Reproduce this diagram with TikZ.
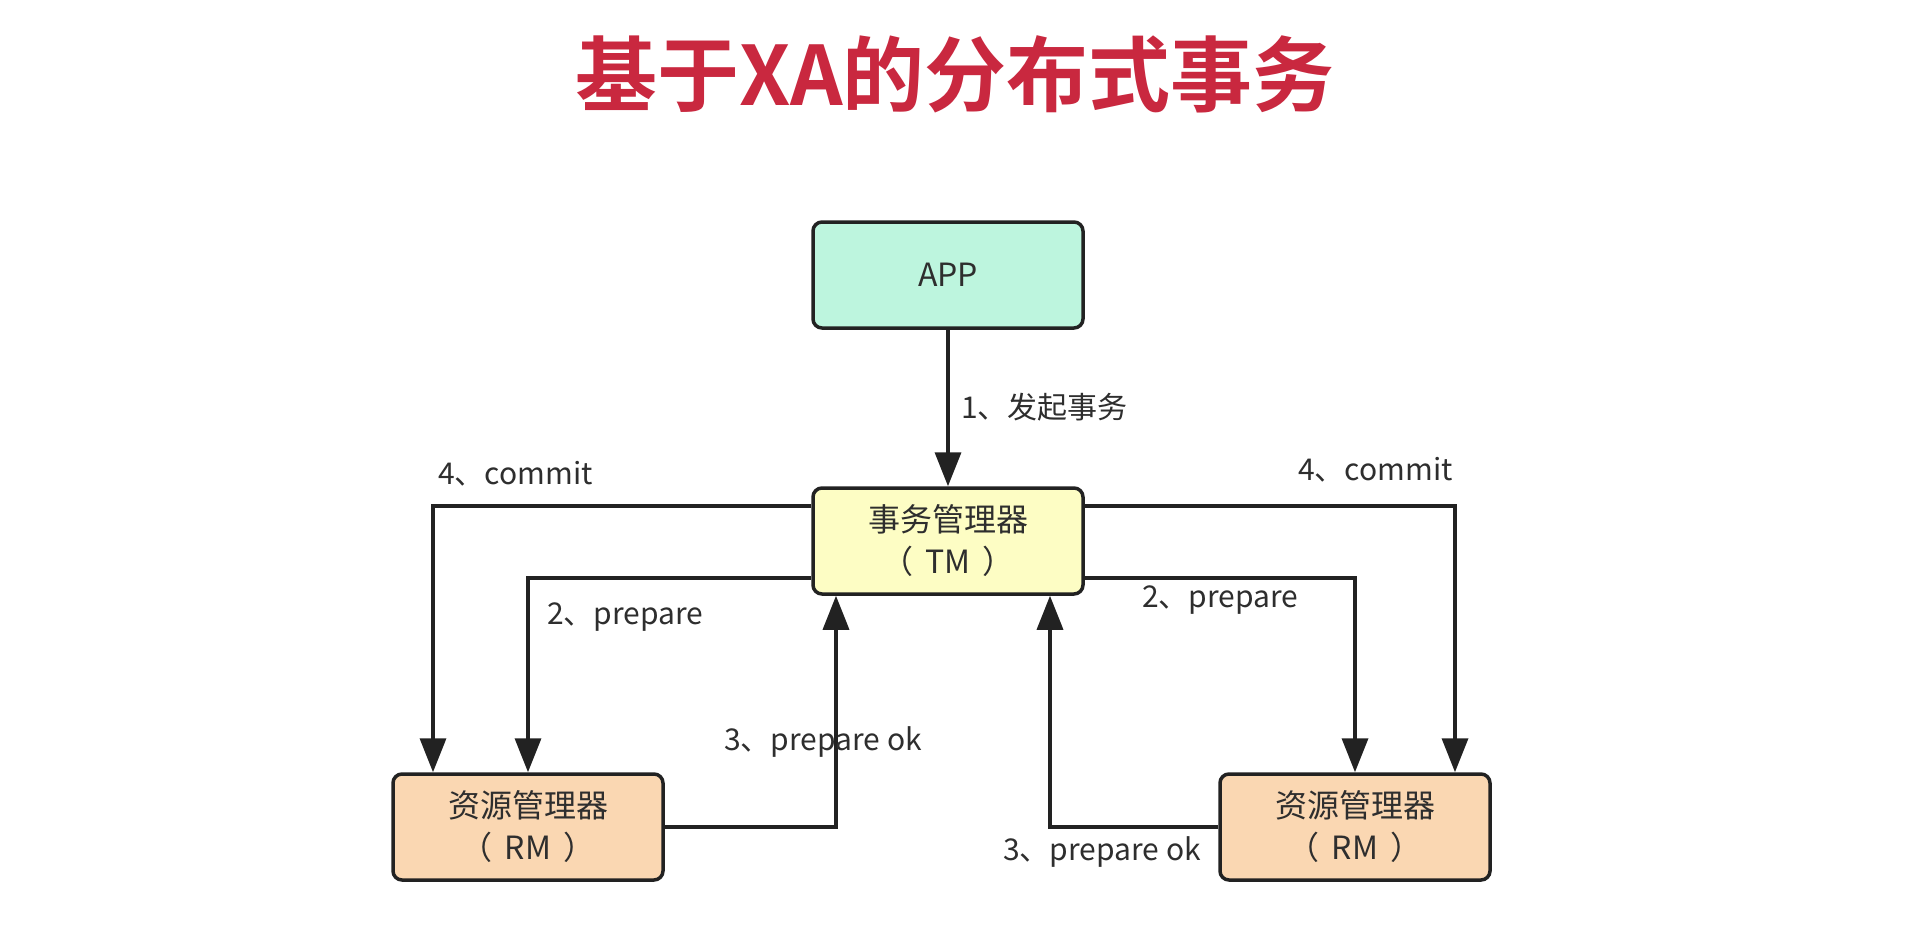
\documentclass[tikz,border=0pt]{standalone}
\usepackage{fontspec}
\setmainfont{Noto Sans CJK SC}[BoldFont={Noto Sans CJK SC Bold}]
\usetikzlibrary{arrows.meta,calc}
\definecolor{appfill}{HTML}{BDF5DE}
\definecolor{tmfill}{HTML}{FDFDC4}
\definecolor{rmfill}{HTML}{FAD7B2}
\definecolor{titlered}{HTML}{C9283F}
\definecolor{ink}{HTML}{222222}
\definecolor{txt}{HTML}{2E2E2E}
\tikzset{
  box/.style={draw=ink, line width=3.5pt, rounded corners=9pt, minimum width=270pt,
    minimum height=106pt, align=center, font=\fontsize{32}{42}\selectfont, text=txt, inner sep=0pt},
  arr/.style={draw=ink, line width=3.5pt, -{Triangle[length=34pt,width=26pt]}},
  lab/.style={font=\fontsize{30}{36}\selectfont, text=txt, anchor=west, inner sep=0pt}
}
\newcommand{\parsp}{\hspace{12pt}}
\begin{document}
\begin{tikzpicture}[x=1pt,y=-1pt]
\useasboundingbox (0,0) rectangle (1907,943);
\fill[white] (0,0) rectangle (1907,943);
\node[font=\fontsize{82}{96}\selectfont\bfseries, text=titlered] (title) at (955,74) {基于XA的分布式事务};
\node[box, fill=appfill] (app) at (948,275) {APP};
\node[box, fill=tmfill] (tm) at (948,541) {事务管理器\\（\parsp TM\parsp）};
\node[box, fill=rmfill] (rmL) at (528,827) {资源管理器\\（\parsp RM\parsp）};
\node[box, fill=rmfill] (rmR) at (1355,827) {资源管理器\\（\parsp RM\parsp）};
% 1
\draw[arr] (app.south) -- (tm.north);
\node[lab] (l1) at (961,407) {1、发起事务};
% left
\draw[arr] ([yshift=35pt]tm.west) -| ([xshift=-95pt]rmL.north);
\draw[arr] ([yshift=-37pt]tm.west) -| (rmL.north);
\draw[arr] (rmL.east) -| ([xshift=-112pt]tm.south);
\node[lab] (l4L) at (438,474) {4、commit};
\node[lab] (l2L) at (547,617) {2、prepare};
\node[lab] (l3L) at (724,742) {3、prepare ok};
% right
\draw[arr] ([yshift=35pt]tm.east) -| ([xshift=100pt]rmR.north);
\draw[arr] ([yshift=-37pt]tm.east) -| (rmR.north);
\draw[arr] (rmR.west) -| ([xshift=102pt]tm.south);
\node[lab] (l4R) at (1298,470) {4、commit};
\node[lab] (l2R) at (1142,600) {2、prepare};
\node[lab] (l3R) at (1003,852) {3、prepare ok};
\end{tikzpicture}
\end{document}
